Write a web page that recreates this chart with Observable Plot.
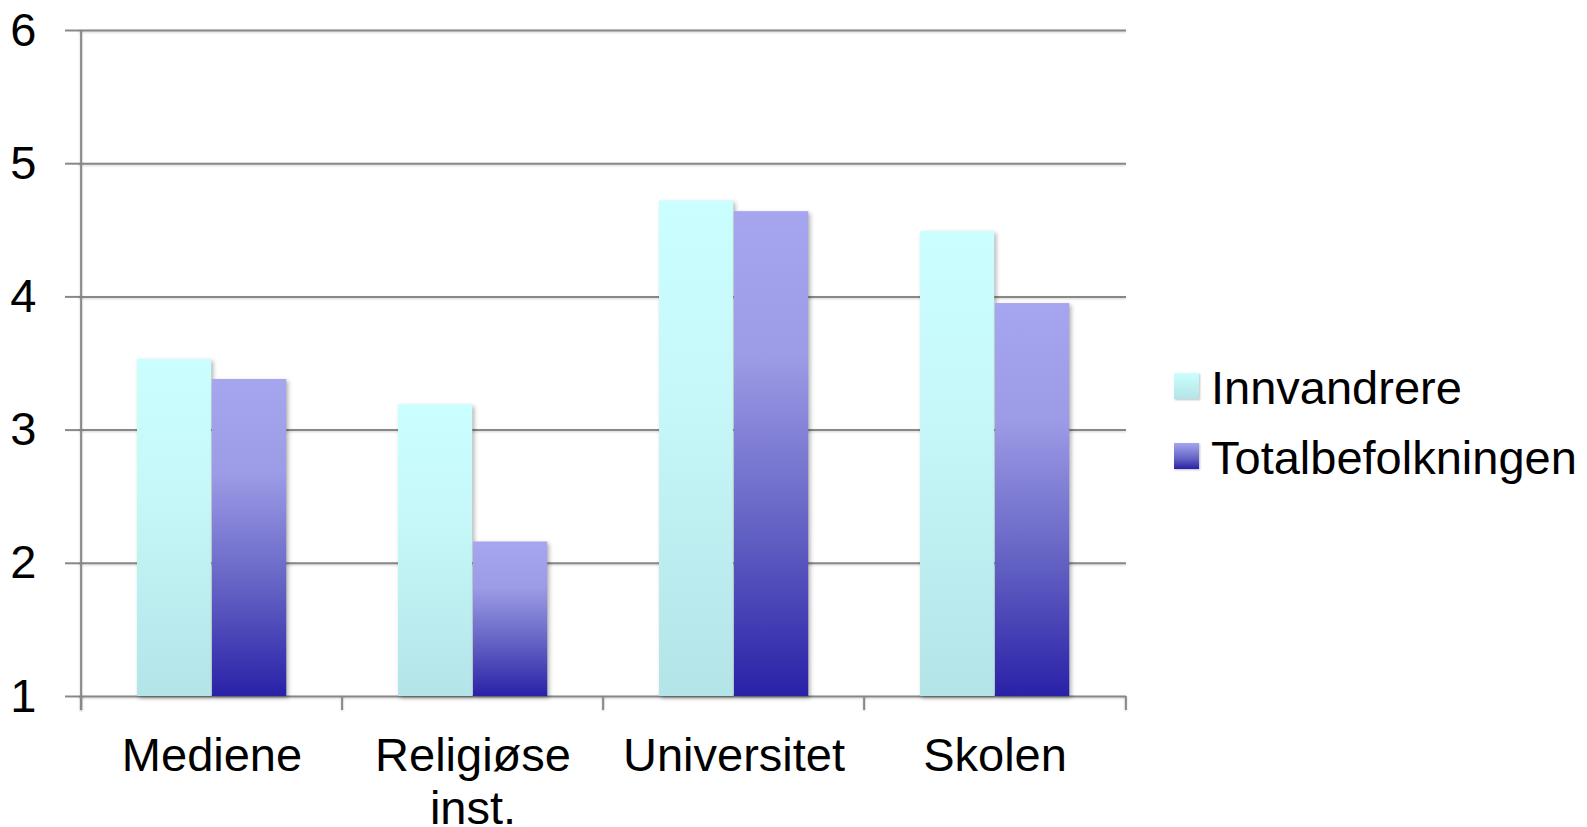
<!DOCTYPE html>
<html><head><meta charset="utf-8">
<script src="https://cdn.jsdelivr.net/npm/d3@7"></script>
<script src="https://cdn.jsdelivr.net/npm/@observablehq/plot@0.6"></script>
<style>
body{margin:0;background:#fff;font-family:"Liberation Sans",Arial,sans-serif;}
#wrap{position:relative;width:1587px;height:827px;overflow:hidden;}
.row{position:absolute;left:1174px;height:47px;font-size:47px;line-height:47px;color:#000;white-space:nowrap;}
.sw{position:absolute;left:0;width:25px;height:26px;box-shadow:1px 1px 2px rgba(0,0,0,0.25);}
.lt{position:absolute;left:37px;top:0;}
</style></head><body><div id="wrap"></div>
<script>
const categories = ["Mediene", "Religiøse\ninst.", "Universitet", "Skolen"];
const series = ["Innvandrere", "Totalbefolkningen"];
const innvandrere = [3.53, 3.19, 4.72, 4.49];
const totalbefolkningen = [3.38, 2.16, 4.64, 3.95];
const yTicks = [1, 2, 3, 4, 5, 6];

const data = categories.flatMap((c, i) => [
  {cat: c, series: series[0], value: innvandrere[i]},
  {cat: c, series: series[1], value: totalbefolkningen[i]}
]);

const W = 1587, H = 827, mL = 79, mR = 461, mT = 30, mB = 131;
const bw = (W - mL - mR) / categories.length;
const grid = "#888888";

const svg = Plot.plot({
  width: W, height: H,
  marginLeft: mL, marginRight: mR, marginTop: mT, marginBottom: mB,
  style: {fontFamily: '"Liberation Sans", Arial, sans-serif', fontSize: "47px", background: "white", color: "#000", overflow: "visible"},
  x: {type: "band", domain: categories, padding: 0},
  y: {domain: [1, 6]},
  marks: [
    Plot.ruleY(yTicks, {stroke: grid, strokeWidth: 2}),
    Plot.axisY(yTicks, {tickSize: 14, tickPadding: 29, tickFormat: d => String(d), stroke: grid, strokeWidth: 2, fill: "#000", fontSize: 47, label: null}),
    Plot.ruleX([categories[0]], {x: d => d, dx: -bw / 2, y1: 6, y2: 1, insetBottom: -14, stroke: grid, strokeWidth: 2}),
    Plot.ruleX(categories, {x: d => d, dx: -bw / 2, y1: 1, y2: 1, insetBottom: -14, stroke: grid, strokeWidth: 2}),
    Plot.ruleX([categories[categories.length - 1]], {x: d => d, dx: bw / 2, y1: 1, y2: 1, insetBottom: -14, stroke: grid, strokeWidth: 2}),
    Plot.barY(data.filter(d => d.series === series[0]), {x: "cat", y1: 1, y2: "value", fill: "url(#gInnv)", insetLeft: 56, insetRight: bw - 131}),
    Plot.barY(data.filter(d => d.series === series[1]), {x: "cat", y1: 1, y2: "value", fill: "url(#gTot)", insetLeft: 131, insetRight: bw - 206}),
    Plot.axisX({tickSize: 0, tickPadding: 37, fill: "#000", fontSize: 47, lineHeight: 1.13, label: null})
  ]
});

const ns = "http://www.w3.org/2000/svg";
const defs = document.createElementNS(ns, "defs");
defs.innerHTML = `
<linearGradient id="gInnv" x1="0" y1="0" x2="0" y2="1">
  <stop offset="0" stop-color="#cbfefe"/><stop offset="0.4" stop-color="#c6f8f9"/><stop offset="1" stop-color="#b3e4e8"/>
</linearGradient>
<linearGradient id="gTot" x1="0" y1="0" x2="0" y2="1">
  <stop offset="0" stop-color="#a6a5f0"/><stop offset="0.3" stop-color="#9c9be6"/><stop offset="0.65" stop-color="#6463c4"/><stop offset="1" stop-color="#2921a7"/>
</linearGradient>`;
svg.insertBefore(defs, svg.firstChild);
svg.querySelectorAll('g[aria-label="bar"]').forEach(g => g.style.filter = "drop-shadow(2px 2px 2px rgba(0,0,0,0.3))");
svg.querySelectorAll('g[aria-label="rule"]').forEach(g => g.style.filter = "drop-shadow(0px 1px 1px rgba(0,0,0,0.18))");

const wrap = document.getElementById("wrap");
wrap.appendChild(svg);

const swatchBg = [
  "linear-gradient(#cbfefe, #b3e4e8)",
  "linear-gradient(#a6a5f0, #6463c4 60%, #2921a7)"
];
series.forEach((s, i) => {
  const row = document.createElement("div");
  row.className = "row";
  row.style.top = (363.5 + i * 70) + "px";
  const sw = document.createElement("div");
  sw.className = "sw";
  sw.style.top = (373.3 - 363.5) + "px";
  sw.style.background = swatchBg[i];
  const t = document.createElement("span");
  t.className = "lt";
  t.textContent = s;
  row.appendChild(sw); row.appendChild(t);
  wrap.appendChild(row);
});
</script></body></html>
